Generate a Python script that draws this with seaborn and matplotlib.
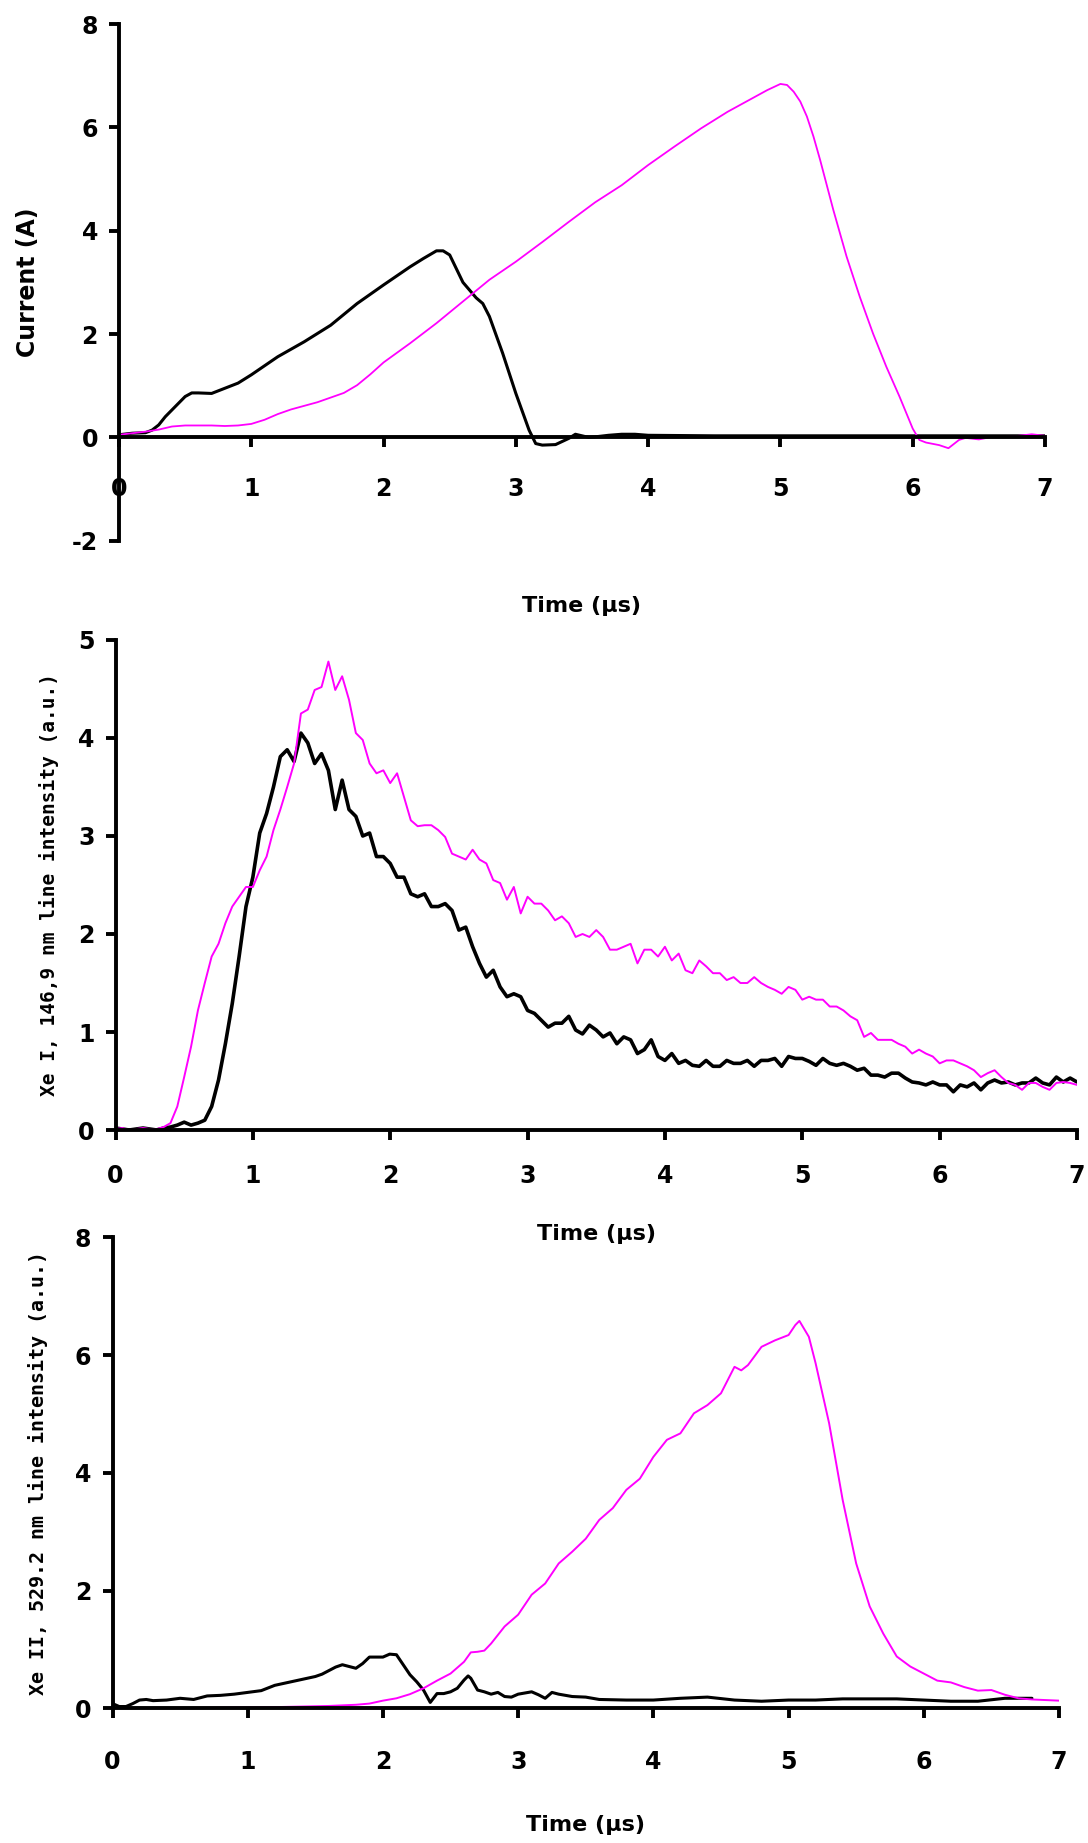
import numpy as np
import pandas as pd
import matplotlib
matplotlib.use("Agg")
import matplotlib.pyplot as plt
import seaborn as sns

# ---------------- Panel 1: current ----------------
cur_t_black = [0, 0.1, 0.2, 0.25, 0.3, 0.35, 0.4, 0.45, 0.5, 0.55, 0.6, 0.7, 0.8, 0.9, 1.0,
               1.2, 1.4, 1.6, 1.8, 2.0, 2.2, 2.3, 2.4, 2.45, 2.5, 2.6, 2.7, 2.75, 2.8, 2.9,
               3.0, 3.1, 3.15, 3.2, 3.3, 3.4, 3.45, 3.5, 3.55, 3.6, 3.7, 3.8, 3.9, 4.0,
               4.5, 5.0, 5.5, 6.0, 6.5, 7.0]
cur_black = [0.05, 0.08, 0.09, 0.14, 0.24, 0.40, 0.53, 0.66, 0.79, 0.86, 0.86, 0.85, 0.95, 1.05, 1.21,
             1.56, 1.85, 2.17, 2.59, 2.95, 3.30, 3.46, 3.61, 3.61, 3.53, 3.00, 2.70, 2.59, 2.34, 1.63,
             0.85, 0.14, -0.12, -0.15, -0.14, -0.02, 0.06, 0.03, 0.00, 0.01, 0.04, 0.06, 0.06, 0.04,
             0.03, 0.03, 0.03, 0.03, 0.03, 0.03]

cur_t_mag = [0, 0.2, 0.3, 0.4, 0.5, 0.6, 0.7, 0.8, 0.9, 1.0, 1.1, 1.2, 1.3, 1.4, 1.5, 1.6, 1.7,
             1.8, 1.9, 2.0, 2.2, 2.4, 2.6, 2.8, 3.0, 3.2, 3.4, 3.6, 3.8, 4.0, 4.2, 4.4, 4.6, 4.8,
             4.9, 5.0, 5.05, 5.1, 5.15, 5.2, 5.25, 5.3, 5.4, 5.5, 5.6, 5.7, 5.8, 5.9, 6.0, 6.05,
             6.1, 6.2, 6.27, 6.35, 6.4, 6.5, 6.6, 6.7, 6.8, 6.9, 7.0]
cur_mag = [0.05, 0.11, 0.15, 0.21, 0.23, 0.23, 0.23, 0.22, 0.23, 0.26, 0.34, 0.45, 0.54, 0.61, 0.68,
           0.77, 0.86, 1.01, 1.22, 1.45, 1.82, 2.21, 2.63, 3.05, 3.40, 3.78, 4.17, 4.55, 4.88, 5.27,
           5.63, 5.98, 6.30, 6.58, 6.72, 6.84, 6.82, 6.69, 6.50, 6.21, 5.82, 5.37, 4.40, 3.50, 2.72,
           2.01, 1.37, 0.79, 0.17, -0.05, -0.10, -0.15, -0.21, -0.05, -0.01, -0.04, 0.01, 0.01, 0.03,
           0.06, 0.03]

# ---------------- Panel 2: Xe I 146.9 nm ----------------
xe1_t = np.linspace(0, 7, 141)
xe1_black = [0.02, 0.01, 0.00, 0.01, 0.02, 0.01, 0.00, 0.02, 0.03, 0.05,
             0.08, 0.05, 0.07, 0.10, 0.24, 0.51, 0.88, 1.29, 1.77, 2.28,
             2.58, 3.03, 3.23, 3.50, 3.81, 3.88, 3.76, 4.05, 3.95, 3.74,
             3.84, 3.67, 3.27, 3.57, 3.27, 3.20, 3.00, 3.03, 2.79, 2.79,
             2.72, 2.58, 2.58, 2.41, 2.38, 2.41, 2.28, 2.28, 2.31, 2.24,
             2.04, 2.07, 1.87, 1.70, 1.56, 1.63, 1.46, 1.36, 1.39, 1.36,
             1.22, 1.19, 1.12, 1.05, 1.09, 1.09, 1.16, 1.02, 0.98,
             1.07, 1.02, 0.95, 0.99, 0.88, 0.95, 0.92, 0.78, 0.82, 0.92, 0.75, 0.71,
             0.78, 0.68, 0.71, 0.66, 0.65, 0.71, 0.65, 0.65, 0.71, 0.68,
             0.68, 0.71, 0.65, 0.71, 0.71, 0.73, 0.65, 0.75, 0.73, 0.73,
             0.70, 0.66, 0.73, 0.68, 0.66, 0.68, 0.65, 0.61, 0.63, 0.56,
             0.56, 0.54, 0.58, 0.58, 0.53, 0.49, 0.48, 0.46, 0.49, 0.46,
             0.46, 0.39, 0.46, 0.44, 0.48, 0.41, 0.48, 0.51, 0.48, 0.49,
             0.46, 0.48, 0.48, 0.53, 0.48, 0.46, 0.54, 0.49, 0.53, 0.49]
xe1_mag = [0.01, 0.02, 0.00, 0.01, 0.02, 0.01, 0.01, 0.03, 0.07, 0.24,
           0.54, 0.85, 1.22, 1.50, 1.77, 1.90, 2.11, 2.28, 2.38, 2.48,
           2.48, 2.65, 2.79, 3.06, 3.27, 3.50, 3.74, 4.25, 4.29, 4.49,
           4.52, 4.78, 4.49, 4.63, 4.39, 4.05, 3.98, 3.74, 3.64, 3.67,
           3.54, 3.64, 3.40, 3.16, 3.10, 3.11, 3.11, 3.06, 2.99, 2.82,
           2.79, 2.76, 2.86, 2.76, 2.72, 2.55, 2.52, 2.35, 2.48, 2.21,
           2.38, 2.31, 2.31, 2.24, 2.14, 2.18, 2.11, 1.97, 2.00,
           1.97, 2.04, 1.97, 1.84, 1.84, 1.87, 1.90, 1.70, 1.84, 1.84, 1.77, 1.87,
           1.73, 1.80, 1.63, 1.60, 1.73, 1.67, 1.60, 1.60, 1.53, 1.56,
           1.50, 1.50, 1.56, 1.50, 1.46, 1.43, 1.39, 1.46, 1.43, 1.33,
           1.36, 1.33, 1.33, 1.26, 1.26, 1.22, 1.16, 1.12, 0.95, 0.99,
           0.92, 0.92, 0.92, 0.88, 0.85, 0.78, 0.82, 0.78, 0.75, 0.68,
           0.71, 0.71, 0.68, 0.65, 0.61, 0.54, 0.58, 0.61, 0.54, 0.48,
           0.46, 0.41, 0.48, 0.48, 0.44, 0.41, 0.48, 0.49, 0.48, 0.46]

# ---------------- Panel 3: Xe II 529.2 nm ----------------
xe2_t_black = [0, 0.05, 0.1, 0.15, 0.2, 0.25, 0.3, 0.4, 0.5, 0.6, 0.7, 0.8, 0.9, 1.0, 1.1, 1.2,
               1.3, 1.4, 1.5, 1.55, 1.6, 1.65, 1.7, 1.75, 1.8, 1.85, 1.9, 1.95, 2.0, 2.05, 2.1,
               2.15, 2.2, 2.25, 2.3, 2.35, 2.4, 2.45, 2.5, 2.55, 2.6, 2.63, 2.65, 2.7, 2.75, 2.8,
               2.85, 2.9, 2.95, 3.0, 3.1, 3.15, 3.2, 3.25, 3.3, 3.4, 3.5, 3.6, 3.8, 4.0, 4.2,
               4.4, 4.6, 4.8, 5.0, 5.2, 5.4, 5.6, 5.8, 6.0, 6.2, 6.4, 6.6, 6.8]
xe2_black = [0.08, 0.03, 0.03, 0.08, 0.14, 0.15, 0.13, 0.14, 0.17, 0.15, 0.21, 0.22, 0.24, 0.27,
             0.30, 0.39, 0.44, 0.49, 0.54, 0.58, 0.64, 0.70, 0.74, 0.71, 0.68, 0.76, 0.87, 0.87,
             0.87, 0.92, 0.91, 0.74, 0.57, 0.45, 0.31, 0.10, 0.25, 0.25, 0.28, 0.34, 0.48, 0.55,
             0.51, 0.31, 0.28, 0.24, 0.27, 0.20, 0.19, 0.24, 0.28, 0.23, 0.17, 0.27, 0.24, 0.20,
             0.19, 0.15, 0.14, 0.14, 0.17, 0.19, 0.14, 0.12, 0.14, 0.14, 0.16, 0.16, 0.16, 0.14,
             0.12, 0.12, 0.17, 0.17]
xe2_t_mag = [0, 0.4, 0.8, 1.2, 1.6, 1.8, 1.9, 2.0, 2.1, 2.2, 2.3, 2.4, 2.5, 2.6, 2.65, 2.7, 2.75,
             2.8, 2.9, 3.0, 3.1, 3.2, 3.3, 3.4, 3.5, 3.6, 3.7, 3.8, 3.9, 4.0, 4.1, 4.2, 4.3, 4.4,
             4.5, 4.6, 4.65, 4.7, 4.8, 4.9, 5.0, 5.05, 5.08, 5.15, 5.2, 5.3, 5.4, 5.5, 5.6, 5.7,
             5.8, 5.9, 6.0, 6.1, 6.2, 6.3, 6.4, 6.5, 6.6, 6.7, 6.8, 6.9, 7.0]
xe2_mag = [0.0, 0.0, 0.01, 0.02, 0.04, 0.06, 0.08, 0.13, 0.17, 0.24, 0.34, 0.47, 0.59, 0.79, 0.95,
           0.96, 0.98, 1.10, 1.39, 1.59, 1.93, 2.12, 2.46, 2.66, 2.88, 3.20, 3.40, 3.71, 3.90, 4.27,
           4.56, 4.67, 5.01, 5.15, 5.35, 5.80, 5.74, 5.83, 6.14, 6.25, 6.34, 6.51, 6.58, 6.31, 5.86,
           4.84, 3.54, 2.46, 1.73, 1.27, 0.88, 0.71, 0.59, 0.47, 0.44, 0.36, 0.30, 0.31, 0.23, 0.17,
           0.15, 0.14, 0.13]

x_ticks = [0, 1, 2, 3, 4, 5, 6, 7]
x_label = "Time (\u00b5s)"
y_label_1 = "Current (A)"
y_label_2 = "Xe I, 146,9 nm line intensity (a.u.)"
y_label_3 = "Xe II, 529.2 nm line intensity (a.u.)"

BLACK = "#000000"
MAGENTA = "#FF00FF"

sns.set_style("ticks")
plt.rcParams["font.family"] = ["DejaVu Sans"]
plt.rcParams["axes.unicode_minus"] = False
plt.rcParams["text.color"] = "black"
plt.rcParams["axes.labelcolor"] = "black"

W, H = 1088, 1843
fig = plt.figure(figsize=(W / 100, H / 100), dpi=100)
fig.patch.set_facecolor("white")


def rect(x0, x7, ytop, ybot):
    return [x0 / W, 1 - ybot / H, (x7 - x0) / W, (ybot - ytop) / H]


def style(ax, ylim, yticks, xpad, ylabel, ylabel_x, ylabel_font, ylabel_size, xlabel_y):
    ax.patch.set_visible(False)
    ax.set_xlim(0, 7)
    ax.set_ylim(*ylim)
    ax.set_xticks(x_ticks)
    ax.set_yticks(yticks)
    for s in ["top", "right"]:
        ax.spines[s].set_visible(False)
    for s in ["left", "bottom"]:
        ax.spines[s].set_linewidth(2.8)
        ax.spines[s].set_color("black")
    ax.tick_params(axis="both", direction="out", length=7.2, width=2.8, color="black",
                   labelsize=17, labelcolor="black")
    ax.tick_params(axis="x", pad=xpad)
    ax.tick_params(axis="y", pad=8)
    for lab in ax.get_xticklabels() + ax.get_yticklabels():
        lab.set_fontweight("bold")
    ax.set_xlabel(x_label, fontsize=16, fontweight="bold", color="black")
    ax.xaxis.set_label_coords(0.5, xlabel_y)
    ax.xaxis.label.set_va("center")
    ax.set_ylabel(ylabel, fontsize=ylabel_size, fontweight="bold", family=ylabel_font,
                  color="black")
    ax.yaxis.set_label_coords(ylabel_x, 0.5)
    ax.yaxis.label.set_va("center")
    ax.grid(False)


# Panel 1
ax1 = fig.add_axes(rect(119, 1045, 24, 540.7))
sns.lineplot(x=cur_t_black, y=cur_black, ax=ax1, color=BLACK, linewidth=2.2,
             estimator=None, sort=False, legend=False)
sns.lineplot(x=cur_t_mag, y=cur_mag, ax=ax1, color=MAGENTA, linewidth=1.3,
             estimator=None, sort=False, legend=False)
ax1.spines["bottom"].set_position(("data", 0))
style(ax1, (-2, 8), [-2, 0, 2, 4, 6, 8], 21, y_label_1, -0.098,
      ["DejaVu Sans"], 17, -0.126)

# Panel 2
ax2 = fig.add_axes(rect(115.5, 1077, 640, 1130))
sns.lineplot(x=xe1_t, y=xe1_black, ax=ax2, color=BLACK, linewidth=2.6,
             estimator=None, sort=False, legend=False)
sns.lineplot(x=xe1_t, y=xe1_mag, ax=ax2, color=MAGENTA, linewidth=1.4,
             estimator=None, sort=False, legend=False)
style(ax2, (0, 5), [0, 1, 2, 3, 4, 5], 17, y_label_2, -0.069,
      ["DejaVu Sans Mono"], 14, -0.212)

# Panel 3
ax3 = fig.add_axes(rect(112.5, 1059, 1237.3, 1708.3))
sns.lineplot(x=xe2_t_black, y=xe2_black, ax=ax3, color=BLACK, linewidth=2.2,
             estimator=None, sort=False, legend=False)
sns.lineplot(x=xe2_t_mag, y=xe2_mag, ax=ax3, color=MAGENTA, linewidth=1.4,
             estimator=None, sort=False, legend=False)
style(ax3, (0, 8), [0, 2, 4, 6, 8], 23, y_label_3, -0.079,
      ["DejaVu Sans Mono"], 14.4, -0.248)

fig.savefig("out.png", dpi=100, facecolor="white")
